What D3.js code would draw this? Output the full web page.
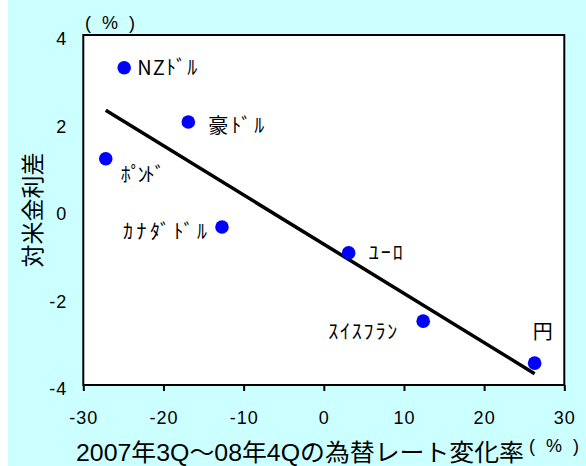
<!DOCTYPE html>
<html>
<head>
<meta charset="utf-8">
<script src="https://cdn.jsdelivr.net/npm/d3@7"></script>
<style>
  html, body { margin: 0; padding: 0; background: #ffffff; }
  svg { display: block; }
</style>
</head>
<body>
<script>
// Currencies, FX change 2007Q3–2008Q4 (%), and interest-rate differential vs USD (%)
const currencies = ["NZﾄﾞﾙ", "豪ﾄﾞﾙ", "ﾎﾟﾝﾄﾞ", "ｶﾅﾀﾞﾄﾞﾙ", "ﾕｰﾛ", "ｽｲｽﾌﾗﾝ", "円"];
const fxChange   = [-24.9, -16.9, -27.2, -12.7, 3.1, 12.4, 26.3];
const rateDiff   = [3.25, 2.01, 1.17, -0.39, -0.98, -2.54, -3.50];
const xTicks = [-30, -20, -10, 0, 10, 20, 30];
const yTicks = [-4, -2, 0, 2, 4];

// Where each currency label sits relative to its point, and how wide it runs
const labelPlacement = {
  "NZﾄﾞﾙ":   { anchor: "start",  dx: 13,  dy: 0,   width: 60 },
  "豪ﾄﾞﾙ":   { anchor: "start",  dx: 20,  dy: 4,   width: 56 },
  "ﾎﾟﾝﾄﾞ":   { anchor: "start",  dx: 12,  dy: 16,  width: 44 },
  "ｶﾅﾀﾞﾄﾞﾙ": { anchor: "end",    dx: -15, dy: 5,   width: 84 },
  "ﾕｰﾛ":     { anchor: "start",  dx: 20,  dy: 0,   width: 34 },
  "ｽｲｽﾌﾗﾝ":  { anchor: "end",    dx: -26, dy: 11,  width: 69 },
  "円":      { anchor: "middle", dx: 8,   dy: -31, width: null }
};

const W = 586, H = 466;
const plot = { left: 83.3, right: 564.3, top: 35, bottom: 385 };
const latin = "'Liberation Sans', Arial, 'Noto Sans CJK JP', sans-serif";
const jp = "'Noto Sans CJK JP', 'Liberation Sans', sans-serif";
const fmt = d => String(d);

const svg = d3.select("body").append("svg")
  .attr("width", W).attr("height", H);

// Page background
svg.append("rect").attr("width", W).attr("height", H).attr("fill", "#ffffff");
svg.append("rect").attr("x", 8).attr("y", 0).attr("width", W - 8).attr("height", H)
  .attr("fill", "#ccffff");

const x = d3.scaleLinear().domain([-30, 30]).range([plot.left, plot.right]);
const y = d3.scaleLinear().domain([-4, 4]).range([plot.bottom, plot.top]);

// Plot area
svg.append("rect")
  .attr("x", plot.left).attr("y", plot.top)
  .attr("width", plot.right - plot.left).attr("height", plot.bottom - plot.top)
  .attr("fill", "#ffffff").attr("stroke", "#000000").attr("stroke-width", 2);

// X axis
const xAxis = svg.append("g")
  .attr("transform", `translate(0,${plot.bottom})`)
  .call(d3.axisBottom(x).tickValues(xTicks).tickSize(6).tickSizeOuter(0).tickFormat(fmt));
xAxis.select(".domain").remove();
xAxis.selectAll(".tick line").attr("stroke", "#000").attr("stroke-width", 2);
xAxis.selectAll(".tick text")
  .attr("y", 39).attr("dy", 0)
  .attr("fill", "#000")
  .style("font-family", latin).style("font-size", "18px")
  .style("letter-spacing", "1px");

// Y axis labels (no tick marks)
const yAxis = svg.append("g")
  .attr("transform", `translate(${plot.left},0)`)
  .call(d3.axisLeft(y).tickValues(yTicks).tickSize(0).tickPadding(16).tickFormat(fmt));
yAxis.select(".domain").remove();
yAxis.selectAll(".tick text")
  .attr("dy", "0.53em")
  .attr("fill", "#000")
  .style("font-family", latin).style("font-size", "18px")
  .style("letter-spacing", "1px");

// Least-squares trend line across the data's x range
const n = fxChange.length;
const mx = d3.mean(fxChange), my = d3.mean(rateDiff);
let sxy = 0, sxx = 0;
for (let i = 0; i < n; i++) {
  sxy += (fxChange[i] - mx) * (rateDiff[i] - my);
  sxx += (fxChange[i] - mx) ** 2;
}
const slope = sxy / sxx, intercept = my - slope * mx;
const [x0, x1] = d3.extent(fxChange);
svg.append("line")
  .attr("x1", x(x0)).attr("y1", y(intercept + slope * x0))
  .attr("x2", x(x1)).attr("y2", y(intercept + slope * x1))
  .attr("stroke", "#000").attr("stroke-width", 3.5);

// Points
const points = currencies.map((c, i) => ({ name: c, fx: fxChange[i], diff: rateDiff[i] }));
svg.append("g").selectAll("circle").data(points).join("circle")
  .attr("cx", d => x(d.fx)).attr("cy", d => y(d.diff))
  .attr("r", 6.8).attr("fill", "#0000ff");

// Point labels
svg.append("g").selectAll("text").data(points).join("text")
  .attr("x", d => x(d.fx) + labelPlacement[d.name].dx)
  .attr("y", d => y(d.diff) + labelPlacement[d.name].dy)
  .attr("dy", "0.36em")
  .attr("text-anchor", d => labelPlacement[d.name].anchor)
  .each(function(d) {
    const w = labelPlacement[d.name].width;
    if (w) d3.select(this).attr("textLength", w).attr("lengthAdjust", "spacing");
  })
  .style("font-family", jp).style("font-size", "20px")
  .text(d => d.name);

// Unit markers
svg.append("text").attr("x", 85).attr("y", 23).attr("dy", "0.36em")
  .style("font-family", latin).style("font-size", "18px")
  .style("letter-spacing", "3px").text("( % )");
svg.append("text").attr("x", 529).attr("y", 446).attr("dy", "0.36em")
  .style("font-family", latin).style("font-size", "18px")
  .style("letter-spacing", "3px").text("( % )");

// Axis titles
svg.append("text").attr("x", 76).attr("y", 461)
  .style("font-family", latin).style("font-size", "24px")
  .attr("textLength", 448).attr("lengthAdjust", "spacingAndGlyphs")
  .text("2007年3Q～08年4Qの為替レート変化率");

svg.append("text")
  .attr("transform", "translate(33,210) rotate(-90)")
  .attr("text-anchor", "middle").attr("dy", "0.36em")
  .style("font-family", jp).style("font-size", "23px")
  .text("対米金利差");
</script>
</body>
</html>
